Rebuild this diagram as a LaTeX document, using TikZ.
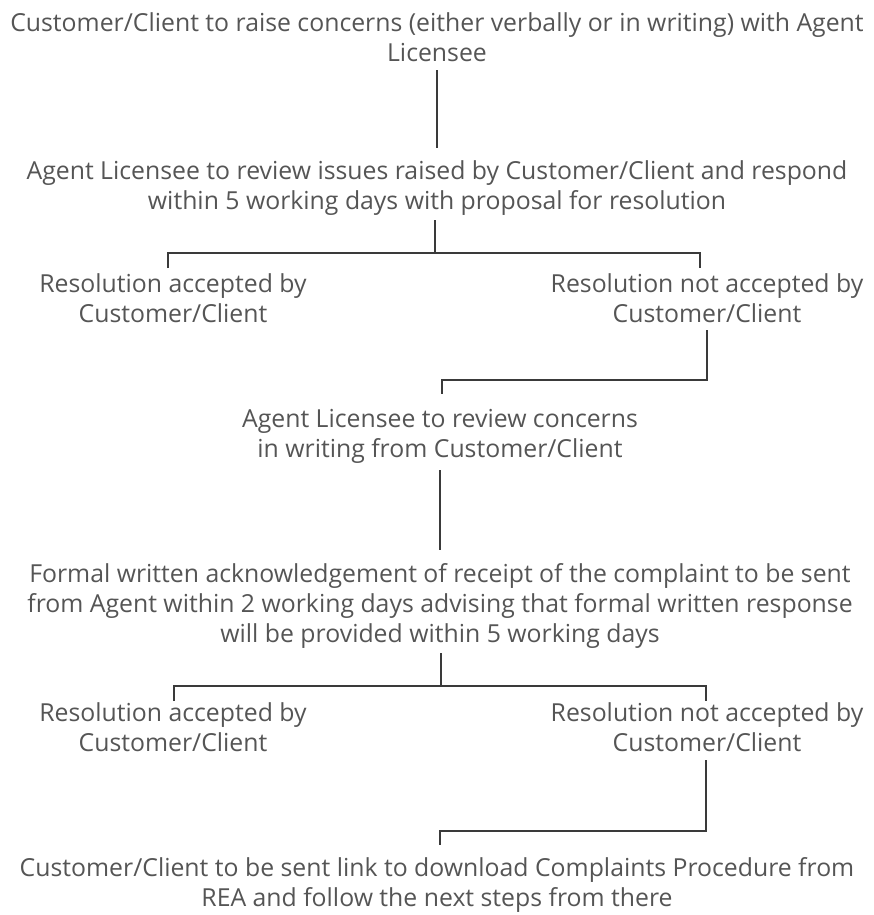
\documentclass[tikz,border=0pt]{standalone}
\usepackage{fontspec}
\setmainfont{Open Sans}
\usetikzlibrary{calc}
\definecolor{txtgray}{HTML}{555555}
\definecolor{linegray}{HTML}{3A3A3A}

\begin{document}
\begin{tikzpicture}[
  x=0.75pt, y=-0.75pt,
  stage/.style={align=center, inner sep=0pt, text=txtgray, font=\fontsize{18.6pt}{22.5pt}\selectfont},
  link/.style={draw=linegray, line width=1.1pt},
]
\useasboundingbox (0,0) rectangle (874,915);

% === COMPLAINTS FLOW ===
\node[stage] (raise) at (437, 37) {Customer/Client to raise concerns (either verbally or in writing) with Agent\\Licensee};
\node[stage] (review) at (437, 188) {Agent Licensee to review issues raised by Customer/Client and respond\\within 5 working days with proposal for resolution};

\node[stage] (okA) at (173, 298) {Resolution accepted by\\Customer/Client};
\node[stage] (noA) at (707, 298) {Resolution not accepted by\\Customer/Client};

\node[stage] (written) at (440, 436) {Agent Licensee to review concerns\\in writing from Customer/Client};
\node[stage] (formal) at (440, 606) {Formal written acknowledgement of receipt of the complaint to be sent\\from Agent within 2 working days advising that formal written response\\will be provided within 5 working days};

\node[stage] (okB) at (173, 727) {Resolution accepted by\\Customer/Client};
\node[stage] (noB) at (707, 727) {Resolution not accepted by\\Customer/Client};

\node[stage] (rea) at (437, 885) {Customer/Client to be sent link to download Complaints Procedure from\\REA and follow the next steps from there};

\draw[link] ($(raise.center)+(0,33)$) -- ($(review.center)+(0,-40)$);
\draw[link] ($(review.center)+(-2,32)$) -- ($(review.center)+(-2,65)$);
\draw[link] ($(okA.center)+(-5,-30)$) |- ($(review.center)+(-2,65)$) -| ($(noA.center)+(-7,-30)$);
\draw[link] ($(noA.center)+(0,32)$) |- ($(written.center)+(2,-56)$) -- ($(written.center)+(2,-42)$);
\draw[link] ($(written.center)+(0,34)$) -- ($(formal.center)+(0,-56)$);
\draw[link] ($(formal.center)+(1,47)$) -- ($(formal.center)+(1,80)$);
\draw[link] ($(okB.center)+(1,-26)$) |- ($(formal.center)+(1,80)$) -| ($(noB.center)+(-1,-26)$);
\draw[link] ($(noB.center)+(-1,33)$) |- ($(rea.center)+(3,-54)$) -- ($(rea.center)+(3,-40)$);
\end{tikzpicture}
\end{document}
